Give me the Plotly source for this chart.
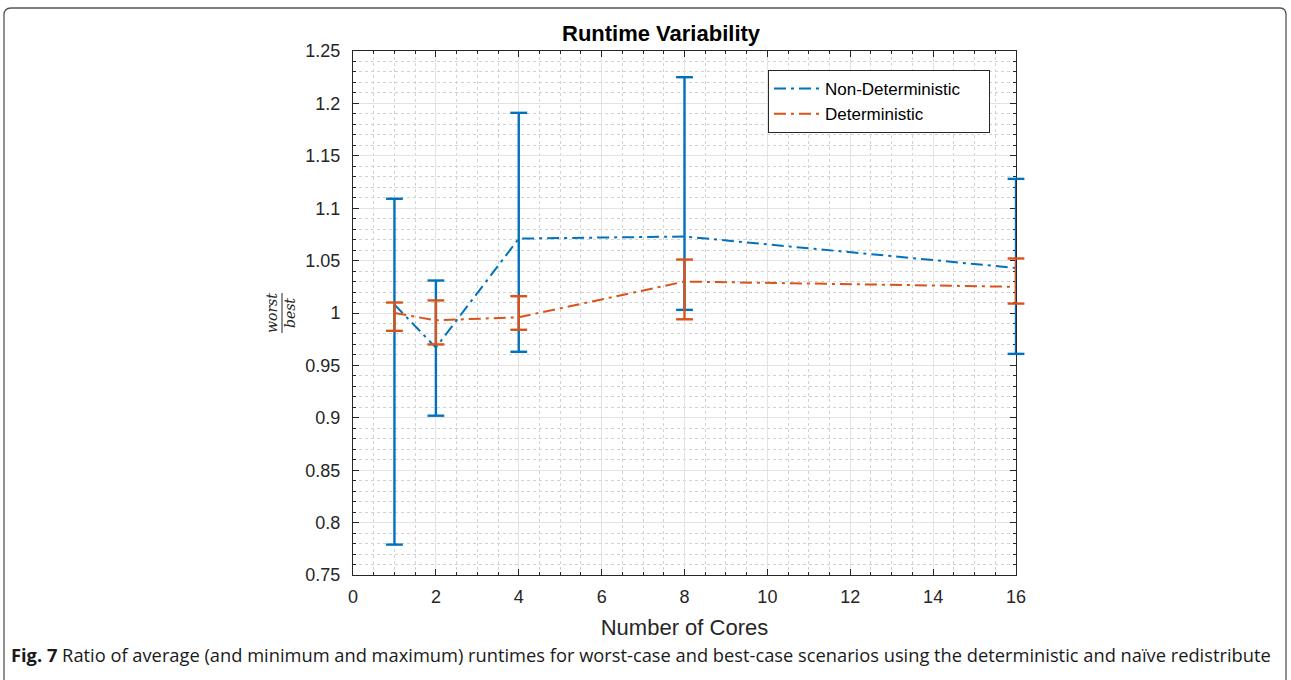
import plotly.graph_objects as go

# ---- data ----
cores = [1, 2, 4, 8, 16]
nondet_mean = [1.008, 0.967, 1.071, 1.073, 1.043]
nondet_max = [1.109, 1.031, 1.191, 1.225, 1.128]
nondet_min = [0.779, 0.902, 0.963, 1.003, 0.961]
det_mean = [1.000, 0.993, 0.996, 1.030, 1.025]
det_max = [1.010, 1.012, 1.016, 1.051, 1.052]
det_min = [0.983, 0.970, 0.984, 0.994, 1.009]

series_names = ["Non-Deterministic", "Deterministic"]
xtick_vals = [0, 2, 4, 6, 8, 10, 12, 14, 16]
ytick_vals = [0.75, 0.8, 0.85, 0.9, 0.95, 1.0, 1.05, 1.1, 1.15, 1.2, 1.25]
ytick_text = ["0.75", "0.8", "0.85", "0.9", "0.95", "1", "1.05", "1.1", "1.15", "1.2", "1.25"]

BLUE = "#0072BD"
ORANGE = "#D95319"

W, H = 1291, 680
L, R, T, B = 353, 1016, 51, 575


def px(x):
    return (x - L) / (R - L)


def py(y):
    return (B - y) / (B - T)


fig = go.Figure()
for name, mean, mx, mn, col in [
    (series_names[0], nondet_mean, nondet_max, nondet_min, BLUE),
    (series_names[1], det_mean, det_max, det_min, ORANGE),
]:
    # vertical error bar stems (min..max) built from the data
    sx, sy = [], []
    for c, lo, hi in zip(cores, mn, mx):
        sx += [c, c, None]
        sy += [lo, hi, None]
    fig.add_trace(go.Scatter(
        x=sx, y=sy, mode="lines", cliponaxis=False, showlegend=False, hoverinfo="skip",
        line=dict(color=col, width=2.4),
    ))
    # caps
    fig.add_trace(go.Scatter(
        x=cores + cores, y=mn + mx, mode="markers", cliponaxis=False, showlegend=False,
        hoverinfo="skip",
        marker=dict(symbol="line-ew", size=12, line=dict(color=col, width=2.4)),
    ))
    # mean line
    fig.add_trace(go.Scatter(
        x=cores, y=mean, name=name + "&nbsp;&nbsp;&nbsp;&nbsp;&nbsp;", mode="lines", cliponaxis=False,
        line=dict(color=col, width=2, dash="12px,5px,3px,5px"),
    ))

axis_common = dict(
    showline=True, linecolor="#262626", linewidth=1, mirror="ticks",
    ticks="inside", ticklen=6, tickcolor="#262626",
    showgrid=True, gridcolor="#e3e3e3", gridwidth=1,
    zeroline=False, layer="below traces",
    tickfont=dict(family="Liberation Sans, Arial", size=18, color="#262626"),
)

fig.update_xaxes(
    range=[0, 16], tickvals=xtick_vals, ticklabelstandoff=5,
    minor=dict(dtick=0.5, showgrid=True, gridcolor="#d2d2d2", griddash="dot", gridwidth=1,
               ticks="inside", ticklen=3, tickcolor="#262626"),
    title=dict(text="Number of Cores", font=dict(family="Liberation Sans, Arial", size=22, color="#262626"), standoff=14),
    **axis_common,
)
fig.update_yaxes(
    range=[0.75, 1.25], tickvals=ytick_vals, ticktext=ytick_text, ticklabelstandoff=8,
    minor=dict(dtick=0.01, showgrid=True, gridcolor="#d2d2d2", griddash="dot", gridwidth=1,
               ticks="inside", ticklen=3, tickcolor="#262626"),
    **axis_common,
)

shapes = [
    # fraction bar for y label
    dict(type="line", xref="paper", yref="paper",
         x0=px(282), x1=px(282), y0=py(293), y1=py(333),
         line=dict(color="#262626", width=1)),
    # outer frame
    dict(type="path", xref="paper", yref="paper",
         path=(f"M {px(4)},{py(690)} L {px(4)},{py(15)} Q {px(4)},{py(8)} {px(11)},{py(8)} "
               f"L {px(1280)},{py(8)} Q {px(1286)},{py(8)} {px(1286)},{py(15)} L {px(1286)},{py(690)}"),
         line=dict(color="#555555", width=1.3)),
]

annotations = [
    dict(text="<b>Runtime Variability</b>", xref="paper", yref="paper",
         x=px(661), y=py(33), showarrow=False, xanchor="center", yanchor="middle",
         font=dict(family="Liberation Sans, Arial", size=22, color="#000000")),
    dict(text="<i>worst</i><br><i>best</i>", xref="paper", yref="paper",
         x=px(281), y=py(313), showarrow=False, textangle=-90,
         xanchor="center", yanchor="middle",
         font=dict(family="DejaVu Serif", size=14, color="#262626")),
    dict(text="<b>Fig. 7</b> Ratio of average (and minimum and maximum) runtimes for worst-case and best-case scenarios using the deterministic and naïve redistribute",
         xref="paper", yref="paper", x=px(9), y=py(654), showarrow=False,
         xanchor="left", yanchor="middle",
         font=dict(family="Open Sans", size=18.3, color="#1a1a1a")),
]

fig.update_layout(
    width=W, height=H,
    margin=dict(l=L, r=W - R, t=T, b=H - B, pad=0),
    paper_bgcolor="white", plot_bgcolor="white",
    showlegend=True,
    legend=dict(x=px(768), y=py(70), xanchor="left", yanchor="top",
                bgcolor="white", bordercolor="#262626", borderwidth=1,
                font=dict(family="Liberation Sans, Arial", size=17, color="#000000"),
                tracegroupgap=0, itemwidth=46),
    shapes=shapes, annotations=annotations,
)

fig.write_html("out.html", post_script="document.body.style.margin='0';",
               config={"displayModeBar": False})
